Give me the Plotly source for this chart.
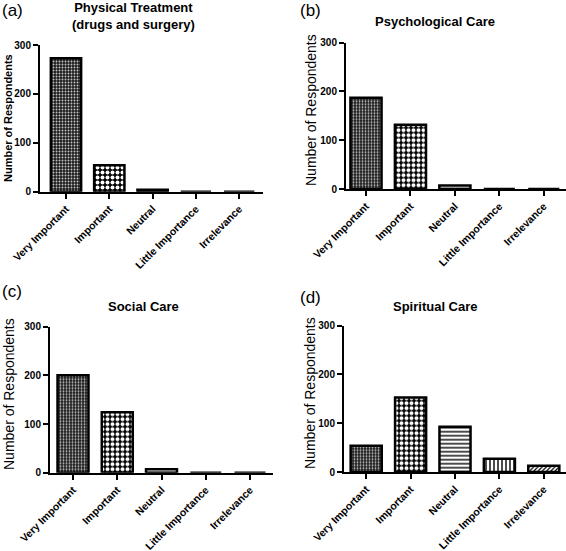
import plotly.graph_objects as go

categories = ["Very Important", "Important", "Neutral", "Little Importance", "Irrelevance"]
physical = [273, 54, 4, 0, 0]
psychological = [187, 132, 7, 0, 0]
social = [200, 124, 7, 0, 0]
spiritual = [54, 153, 93, 27, 13]
panel_titles = ["Physical Treatment<br>(drugs and surgery)", "Psychological Care", "Social Care", "Spiritual Care"]
panel_letters = ["(a)", "(b)", "(c)", "(d)"]
y_ticks = [0, 100, 200, 300]

W, H = 566, 551
FONT = "Liberation Sans, Arial, Helvetica, sans-serif"

# pattern per category
pat_shape = [".", ".", "-", "|", "/"]
pat_bg = ["#1e1e1e", "black", "white", "white", "white"]
pat_fg = ["#c8c8c8", "white", "black", "black", "black"]
pat_size = [3, 5, 4, 4, 3]
pat_sol = [0.3, 0.5, 0.35, 0.35, 0.4]

# panel geometry in pixels: (x_left, x_right, y_zero, y_300, xrange)
panels = [
    (40, 263, 191.7, 45.0, [-0.6, 4.55]),
    (346, 566, 189.0, 42.7, [-0.45, 4.5]),
    (50, 273, 472.7, 326.7, [-0.52, 4.52]),
    (344, 566, 472.0, 325.7, [-0.5, 4.5]),
]
data_sets = [physical, psychological, social, spiritual]

fig = go.Figure()
layout = dict(
    template="none",
    width=W, height=H, margin=dict(l=0, r=0, t=0, b=0, pad=0, autoexpand=False),
    paper_bgcolor="white", plot_bgcolor="white", showlegend=False,
    font=dict(family=FONT, color="black"),
    bargap=0.3,
)
annotations = []
for i, (vals, (xl, xr, y0, y3, xr_rng)) in enumerate(zip(data_sets, panels)):
    n = "" if i == 0 else str(i + 1)
    fig.add_trace(go.Bar(
        x=categories, y=vals, width=0.7,
        xaxis="x" + n, yaxis="y" + n,
        marker=dict(
            color="white",
            line=dict(color="black", width=2.5),
            pattern=dict(shape=pat_shape, bgcolor=pat_bg, fgcolor=pat_fg,
                         size=pat_size, solidity=pat_sol, fillmode="replace"),
        ),
    ))
    xd = [xl / W, min(xr / W, 1.0)]
    yd = [1 - y0 / H, 1 - y3 / H]
    layout["xaxis" + n] = dict(
        domain=xd, range=xr_rng, anchor="y" + n, type="category", automargin=False,
        showline=True, linecolor="black", linewidth=2,
        ticks="outside", ticklen=5, tickwidth=2, tickcolor="black",
        tickangle=-45, tickfont=dict(size=10.5, weight="bold", family=FONT),
        showgrid=False, zeroline=False, fixedrange=True,
    )
    layout["yaxis" + n] = dict(
        domain=yd, range=[0, 300], anchor="x" + n, automargin=False,
        tickvals=y_ticks,
        showline=True, linecolor="black", linewidth=2,
        ticks="outside", ticklen=5, tickwidth=2, tickcolor="black",
        tickfont=dict(size=10, weight="bold", family=FONT),
        showgrid=False, zeroline=False,
    )

# titles
title_pos = [(133, 16), (435, 22), (143, 306), (435, 306)]
for t, (cx, cy) in zip(panel_titles, title_pos):
    annotations.append(dict(text=t, x=cx / W, y=1 - cy / H, xref="paper", yref="paper",
                            showarrow=False, xanchor="center", yanchor="middle",
                            font=dict(size=13, weight="bold", family=FONT)))
# letters
letter_pos = [(0, 11), (298, 11), (0, 291), (298, 297)]
for t, (lx, ly) in zip(panel_letters, letter_pos):
    annotations.append(dict(text=t, x=lx / W, y=1 - ly / H, xref="paper", yref="paper",
                            showarrow=False, xanchor="left", yanchor="middle",
                            font=dict(size=17, family=FONT)))
# y titles
ytitle_pos = [(8, 118, 11, "bold"), (311, 110, 14, "normal"), (9, 394, 14, "normal"), (310, 393, 14, "normal")]
for (tx, ty, fs, fw) in ytitle_pos:
    annotations.append(dict(text="Number of Respondents", x=tx / W, y=1 - ty / H,
                            xref="paper", yref="paper", showarrow=False, textangle=-90,
                            xanchor="center", yanchor="middle",
                            font=dict(size=fs, weight=fw, family=FONT)))

layout["annotations"] = annotations
fig.update_layout(**layout)
fig.write_html("out.html", config={"displayModeBar": False},
               post_script="document.body.style.margin='0';document.body.style.overflow='hidden';")
